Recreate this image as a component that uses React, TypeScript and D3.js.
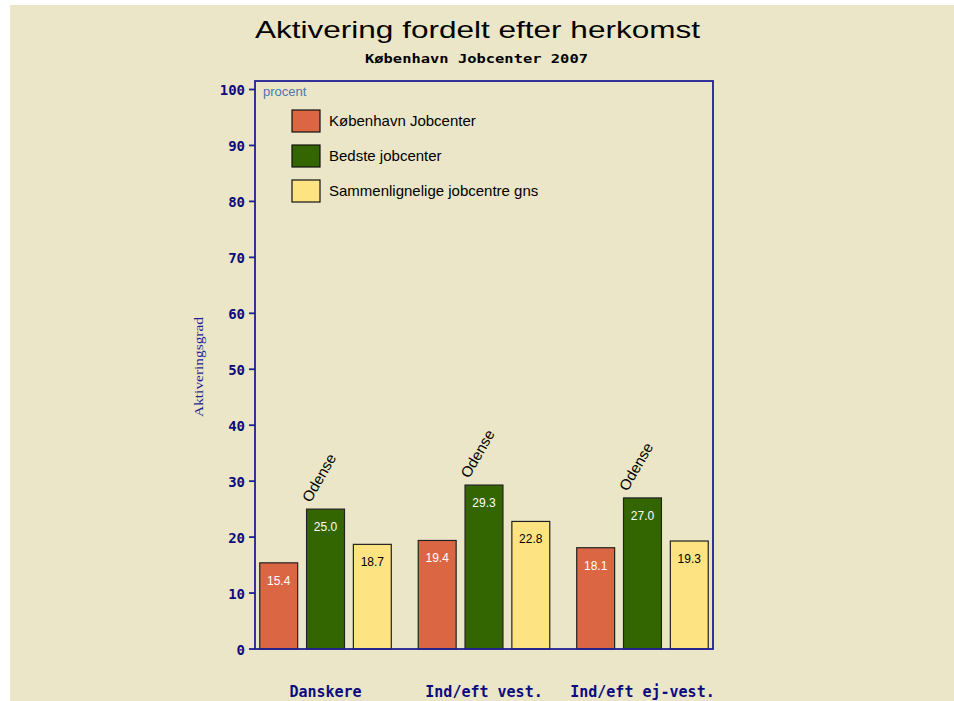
import React from "react";
import * as d3 from "d3";

const categories = ["Danskere", "Ind/eft vest.", "Ind/eft ej-vest."];
const seriesNames = ["København Jobcenter", "Bedste jobcenter", "Sammenlignelige jobcentre gns"];
const kobenhavn = [15.4, 19.4, 18.1];
const bedste = [25.0, 29.3, 27.0];
const sammenlignelige = [18.7, 22.8, 19.3];
const bedsteNames = ["Odense", "Odense", "Odense"];
const yTicks = [0, 10, 20, 30, 40, 50, 60, 70, 80, 90, 100];

const seriesValues = [kobenhavn, bedste, sammenlignelige];
const colors = ["#DB6644", "#336600", "#FEE383"];
const labelColors = ["#FFFFFF", "#FFFFFF", "#000000"];

const W = 954;
const H = 701;
const left = 255;
const right = 713;
const top = 81;
const bottom = 649;
const navy = "#0B0B80";
const axisBlue = "#1E1E96";

export default function App() {
  const y = d3.scaleLinear().domain([0, 100]).range([bottom, 89.5]);
  const x0 = d3
    .scaleBand<string>()
    .domain(categories)
    .range([left, right])
    .paddingInner(0.17)
    .paddingOuter(0.03);
  const x1 = d3
    .scaleBand<number>()
    .domain([0, 1, 2])
    .range([0, x0.bandwidth()])
    .paddingInner(0.19)
    .paddingOuter(0);

  return (
    <svg
      width={W}
      height={H}
      style={{ position: "absolute", left: 0, top: 0 }}
      xmlns="http://www.w3.org/2000/svg"
    >
      <rect x={0} y={0} width={W} height={H} fill="#FFFFFF" />
      <rect x={10} y={5} width={W - 10} height={H - 5} fill="#ECE6C8" />

      <text
        x={477.5}
        y={38}
        textAnchor="middle"
        fontFamily="Liberation Sans, Arial, sans-serif"
        fontSize={24}
        textLength={445}
        lengthAdjust="spacingAndGlyphs"
        fill="#000"
      >
        Aktivering fordelt efter herkomst
      </text>
      <text
        x={476.5}
        y={63}
        textAnchor="middle"
        fontFamily="DejaVu Sans Mono, monospace"
        fontWeight="bold"
        fontSize={12.5}
        textLength={223}
        lengthAdjust="spacingAndGlyphs"
        fill="#000"
      >
        København Jobcenter 2007
      </text>

      {/* bars */}
      {categories.map((c, ci) => (
        <g key={c} transform={`translate(${x0(c)},0)`}>
          {seriesValues.map((vals, si) => {
            const v = vals[ci];
            const bx = x1(si)!;
            const bw = x1.bandwidth();
            const by = y(v);
            return (
              <g key={si}>
                <rect
                  x={bx}
                  y={by}
                  width={bw}
                  height={y(0) - by}
                  fill={colors[si]}
                  stroke="#222"
                  strokeWidth={1.2}
                />
                <text
                  x={bx + bw / 2}
                  y={by + 22}
                  textAnchor="middle"
                  fontFamily="Liberation Sans, Arial, sans-serif"
                  fontSize={12}
                  fill={labelColors[si]}
                >
                  {v.toFixed(1)}
                </text>
                {si === 1 && (
                  <text
                    transform={`translate(${bx + bw / 2 - 15},${by - 6}) rotate(-60)`}
                    fontFamily="Liberation Sans, Arial, sans-serif"
                    fontSize={15}
                    fill="#000"
                  >
                    {bedsteNames[ci]}
                  </text>
                )}
              </g>
            );
          })}
        </g>
      ))}

      {/* frame */}
      <rect
        x={left}
        y={top}
        width={right - left}
        height={bottom - top}
        fill="none"
        stroke={axisBlue}
        strokeWidth={1.8}
      />

      {/* y axis ticks */}
      {yTicks.map((t) => (
        <g key={t}>
          <line x1={left - 6} x2={left} y1={y(t)} y2={y(t)} stroke={axisBlue} strokeWidth={1.8} />
          <text
            x={245}
            y={y(t)}
            dy="0.4em"
            textAnchor="end"
            fontFamily="DejaVu Sans Mono, monospace"
            fontWeight="bold"
            fontSize={14}
            fill={navy}
          >
            {t}
          </text>
        </g>
      ))}

      <text
        x={263}
        y={96}
        fontFamily="Liberation Sans, Arial, sans-serif"
        fontSize={13}
        fill="#4A78B0"
      >
        procent
      </text>

      <text
        transform={`translate(203,367) rotate(-90)`}
        textAnchor="middle"
        fontFamily="Liberation Serif, Times New Roman, serif"
        fontSize={12.5}
        textLength={100}
        lengthAdjust="spacingAndGlyphs"
        fill={axisBlue}
      >
        Aktiveringsgrad
      </text>

      {/* legend */}
      {seriesNames.map((n, i) => (
        <g key={n} transform={`translate(292,${110 + i * 35})`}>
          <rect x={0} y={0} width={28} height={22} fill={colors[i]} stroke="#111" strokeWidth={1.2} />
          <text
            x={37}
            y={11}
            dy="0.36em"
            fontFamily="Liberation Sans, Arial, sans-serif"
            fontSize={15}
            fill="#000"
          >
            {n}
          </text>
        </g>
      ))}

      {/* category labels */}
      {categories.map((c) => (
        <text
          key={c}
          x={x0(c)! + x0.bandwidth() / 2}
          y={697}
          textAnchor="middle"
          fontFamily="DejaVu Sans Mono, monospace"
          fontWeight="bold"
          fontSize={15}
          fill={navy}
        >
          {c}
        </text>
      ))}
    </svg>
  );
}
